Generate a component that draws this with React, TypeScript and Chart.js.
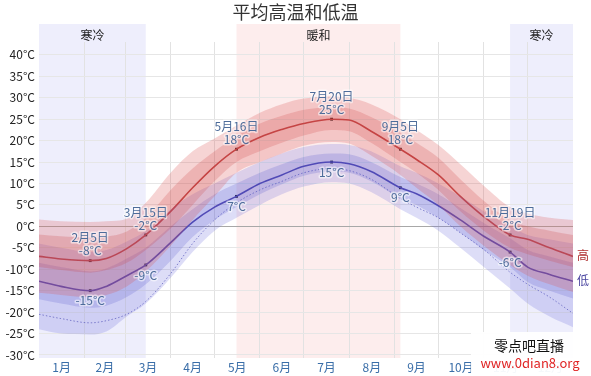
import React, { useEffect, useRef } from 'react';
import { Chart, registerables } from 'chart.js';

Chart.register(...registerables);

// ---- data ----
const days = [0, 15, 35, 46, 60, 73, 90, 105, 120, 135, 151, 166, 181, 200, 212, 227, 247, 258, 273, 288, 304, 322, 334, 349, 365];

const highMean = [-7, -7.6, -8, -7.5, -5.2, -2, 3.5, 9, 14, 18, 20.8, 22.6, 24, 25, 24.8, 22.2, 18, 15.6, 12, 7, 2.3, -2, -3, -5, -7];
const highP90 = [1.6, 1.2, 1, 1.2, 1.8, 5.5, 12.5, 17.5, 20.5, 23.5, 26.5, 28.5, 29.8, 30.3, 30, 28.5, 25, 22.5, 19, 14.5, 9.5, 4.5, 3, 2, 1.5];
const highP75 = [-1.9, -2.3, -2.6, -2.4, -1.2, 2, 8.5, 13.5, 17.5, 21, 24, 25.8, 27.2, 27.8, 27.5, 25.5, 21.8, 19.5, 16, 11, 6, 1.5, 0, -1, -2];
const highP25 = [-9.5, -10.2, -10.8, -10.2, -8.5, -5.5, -0.5, 5, 10.5, 15, 17.5, 19.5, 21.2, 22.5, 22.2, 19.5, 15, 12.5, 8.5, 3.5, -1, -5, -6.5, -8, -9.5];
const highP10 = [-15.5, -16, -16.5, -16, -14, -10.5, -4.5, 1.5, 7, 12.5, 15, 17, 18.8, 19.7, 19.3, 16.5, 12, 9, 5, 0, -4.5, -9, -11.5, -13.5, -15.3];

const lowMean = [-12.8, -14, -15, -14, -11.5, -9, -3.8, 1, 4.5, 7, 10, 12, 14, 15, 14.6, 12.8, 9, 7.6, 4.8, 1.5, -2.3, -6, -9.5, -11.2, -12.8];
const lowP90 = [-4, -5, -6, -5.5, -3.5, -1, 4, 7.5, 10, 12.5, 15, 17, 18.5, 19.2, 19, 17.5, 14, 12.5, 10, 7, 3.5, 0, -2, -3, -4];
const lowP75 = [-8.5, -9.5, -10.5, -9.8, -7.5, -5, 0, 4, 7.5, 10, 12.5, 14.5, 16.2, 17, 16.8, 15, 11.5, 10, 7.5, 4.3, 0.8, -2.8, -5.5, -7, -8.5];
const lowP25 = [-17, -18, -19, -18.5, -16.5, -13.5, -8, -2.5, 1.5, 4.5, 7.5, 9.8, 11.8, 12.8, 12.5, 10.5, 6.5, 5, 2, -1.5, -5.5, -9.5, -13, -15, -16.8];
const lowP10 = [-24, -25, -25.2, -24.5, -21, -18, -12, -6, -1, 2, 5, 7.5, 9.3, 10.3, 10, 8, 4, 2, -1, -5, -9.5, -14.5, -18, -21, -23.5];
const lowDotted = [-20.5, -21.5, -22.5, -22, -20.5, -17.5, -11, -4, 1.5, 5.5, 8.5, 10.5, 12.5, 13.5, 13, 11, 6.5, 4.5, 2, -1.5, -5.4, -10.7, -13.5, -16.5, -20.3];

const annoDays = [35, 73, 135, 200, 247, 322];
const annoDates = ['2月5日', '3月15日', '5月16日', '7月20日', '9月5日', '11月19日'];
const annoHigh = [-8, -2, 18, 25, 18, -2];
const annoLow = [-15, -9, 7, 15, 9, -6];

const monthNames = ['1月', '2月', '3月', '4月', '5月', '6月', '7月', '8月', '9月', '10月', '11月', '12月'];
const monthStarts = [0, 31, 59, 90, 120, 151, 181, 212, 243, 273, 304, 334];
const yearEnd = 365;

const coldRanges = [[0, 73], [322, 365]];
const warmRanges = [[135, 247]];
const coldLabel = '寒冷';
const warmLabel = '暖和';
const titleText = '平均高温和低温';
const highLabel = '高';
const lowLabel = '低';
const watermark1 = '零点吧直播';
const watermark2 = 'www.0dian8.org';

const FONT = '"Noto Sans CJK SC", "Noto Sans", sans-serif';

const monthMids = monthStarts.map((s, i) => (s + (i + 1 < monthStarts.length ? monthStarts[i + 1] : yearEnd)) / 2);

function pts(vals: number[]) {
  return days.map((d, i) => ({ x: d, y: vals[i] }));
}

function haloText(ctx: CanvasRenderingContext2D, text: string, x: number, y: number, color: string) {
  ctx.lineWidth = 3;
  ctx.strokeStyle = 'rgba(255,255,255,0.55)';
  ctx.lineJoin = 'round';
  ctx.strokeText(text, x, y);
  ctx.fillStyle = color;
  ctx.fillText(text, x, y);
}

const decor = {
  id: 'decor',
  beforeDraw(chart: any) {
    const { ctx, chartArea, scales } = chart;
    const x = scales.x;
    ctx.save();
    const top = 24;
    ctx.fillStyle = 'rgba(200,200,245,0.3)';
    coldRanges.forEach(([a, b]) => {
      const x0 = x.getPixelForValue(a);
      const x1 = x.getPixelForValue(b);
      ctx.fillRect(x0, top, x1 - x0, chartArea.bottom - top);
    });
    ctx.fillStyle = 'rgba(245,175,175,0.22)';
    warmRanges.forEach(([a, b]) => {
      const x0 = x.getPixelForValue(a);
      const x1 = x.getPixelForValue(b);
      ctx.fillRect(x0, top, x1 - x0, chartArea.bottom - top);
    });
    ctx.font = `12px ${FONT}`;
    ctx.fillStyle = '#222';
    ctx.textAlign = 'center';
    ctx.textBaseline = 'middle';
    coldRanges.forEach(([a, b]) => {
      ctx.fillText(coldLabel, (x.getPixelForValue(a) + x.getPixelForValue(b)) / 2, 35);
    });
    warmRanges.forEach(([a, b]) => {
      ctx.fillText(warmLabel, (x.getPixelForValue(a) + x.getPixelForValue(b)) / 2, 35);
    });
    ctx.font = `18px ${FONT}`;
    ctx.fillStyle = '#333';
    ctx.fillText(titleText, chart.width / 2, 12);
    ctx.restore();
  },
  afterDatasetsDraw(chart: any) {
    const { ctx, scales } = chart;
    const x = scales.x;
    const y = scales.y;
    ctx.save();
    ctx.font = `12px ${FONT}`;
    ctx.textAlign = 'center';
    ctx.textBaseline = 'middle';
    const col = '#4d6c9a';
    annoDays.forEach((d, i) => {
      const px = x.getPixelForValue(d);
      const hy = y.getPixelForValue(annoHigh[i]);
      const ly = y.getPixelForValue(annoLow[i]);
      haloText(ctx, annoDates[i], px, hy - 23, col);
      haloText(ctx, `${annoHigh[i]}°C`, px, hy - 10, col);
      haloText(ctx, `${annoLow[i]}°C`, px, ly + 10, col);
    });
    ctx.font = `12px ${FONT}`;
    ctx.textAlign = 'left';
    ctx.fillStyle = '#b03030';
    const lastX = x.getPixelForValue(yearEnd);
    ctx.fillText(highLabel, lastX + 4, y.getPixelForValue(highMean[highMean.length - 1]) - 1);
    ctx.fillStyle = '#4a45a0';
    ctx.fillText(lowLabel, lastX + 4, y.getPixelForValue(lowMean[lowMean.length - 1]) - 1);
    ctx.restore();
  },
  afterDraw(chart: any) {
    const { ctx } = chart;
    ctx.save();
    ctx.fillStyle = 'rgba(255,255,255,0.95)';
    ctx.fillRect(471, 332, chart.width - 471, chart.height - 332);
    ctx.textAlign = 'center';
    ctx.textBaseline = 'middle';
    ctx.font = `14px ${FONT}`;
    ctx.fillStyle = '#111';
    ctx.fillText(watermark1, 529, 346);
    ctx.font = `13px ${FONT}`;
    ctx.fillStyle = '#e02525';
    ctx.fillText(watermark2, 530, 363);
    ctx.restore();
  },
};

export default function App() {
  const ref = useRef<HTMLCanvasElement | null>(null);

  useEffect(() => {
    document.body.style.margin = '0';
    const canvas = ref.current;
    if (!canvas) return;
    Chart.defaults.font.family = FONT;

    const band = (data: number[], fill: any, bg: string) => ({
      data: pts(data),
      borderWidth: 0,
      pointRadius: 0,
      fill,
      backgroundColor: bg,
      borderColor: 'rgba(0,0,0,0)',
      cubicInterpolationMode: 'monotone',
    });

    const chart = new Chart(canvas, {
      type: 'line',
      data: {
        datasets: [
          band(highP90, 3, 'rgba(220,85,85,0.25)') as any,
          band(highP75, 2, 'rgba(200,60,60,0.22)'),
          band(highP25, false, 'transparent'),
          band(highP10, false, 'transparent'),
          band(lowP90, 7, 'rgba(100,100,220,0.22)'),
          band(lowP75, 6, 'rgba(80,80,200,0.22)'),
          band(lowP25, false, 'transparent'),
          band(lowP10, false, 'transparent'),
          {
            data: pts(lowDotted),
            borderColor: 'rgba(110,110,190,0.85)',
            borderWidth: 1,
            borderDash: [1.5, 2],
            pointRadius: 0,
            fill: false,
            cubicInterpolationMode: 'monotone',
          },
          {
            data: pts(lowMean),
            borderColor: '#4a3fa5',
            borderWidth: 1.6,
            pointRadius: 0,
            fill: false,
            cubicInterpolationMode: 'monotone',
          },
          {
            data: pts(highMean),
            borderColor: '#bb4040',
            borderWidth: 1.6,
            pointRadius: 0,
            fill: false,
            cubicInterpolationMode: 'monotone',
          },
          {
            data: annoDays.flatMap((d, i) => [{ x: d, y: annoHigh[i] }, { x: d, y: annoLow[i] }]),
            showLine: false,
            pointStyle: 'rect',
            pointRadius: 2,
            pointBackgroundColor: '#000',
            pointBorderWidth: 0,
            fill: false,
          },
        ] as any,
      },
      options: {
        animation: false,
        responsive: false,
        devicePixelRatio: 1,
        layout: { padding: { top: 42, right: 18, left: 0, bottom: 0 } },
        plugins: {
          legend: { display: false },
          tooltip: { enabled: false },
          title: { display: false },
        },
        scales: {
          x: {
            type: 'linear',
            min: 0,
            max: yearEnd,
            afterBuildTicks: (scale: any) => {
              const t: any[] = [];
              monthStarts.forEach((s, i) => {
                t.push({ value: s });
                t.push({ value: monthMids[i] });
              });
              scale.ticks = t;
            },
            afterFit: (scale: any) => {
              scale.height = 18;
            },
            ticks: {
              autoSkip: false,
              maxRotation: 0,
              minRotation: 0,
              padding: 2,
              color: '#3a6ea8',
              font: { size: 12, family: FONT },
              callback: (v: any) => {
                const i = monthMids.indexOf(Number(v));
                return i >= 0 ? monthNames[i] : '';
              },
            },
            grid: {
              drawTicks: false,
              color: (c: any) =>
                c.tick && monthStarts.includes(c.tick.value) && c.tick.value !== 0 ? '#e2e2e2' : 'rgba(0,0,0,0)',
            },
            border: { display: false },
          },
          y: {
            type: 'linear',
            min: -30.7,
            max: 43,
            afterFit: (scale: any) => {
              scale.width = 39;
            },
            ticks: {
              stepSize: 5,
              includeBounds: false,
              padding: 4,
              color: '#222',
              font: { size: 12, family: FONT },
              callback: (v: any) => `${v}°C`,
            },
            grid: {
              drawTicks: false,
              color: (c: any) => (c.tick && c.tick.value === 0 ? '#a8a8a8' : '#e6e6e6'),
            },
            border: { display: false },
          },
        },
      } as any,
      plugins: [decor as any],
    });
    return () => chart.destroy();
  }, []);

  return (
    <div style={{ position: 'absolute', left: 0, top: 0, width: 591, height: 376 }}>
      <canvas ref={ref} width={591} height={376} />
    </div>
  );
}
